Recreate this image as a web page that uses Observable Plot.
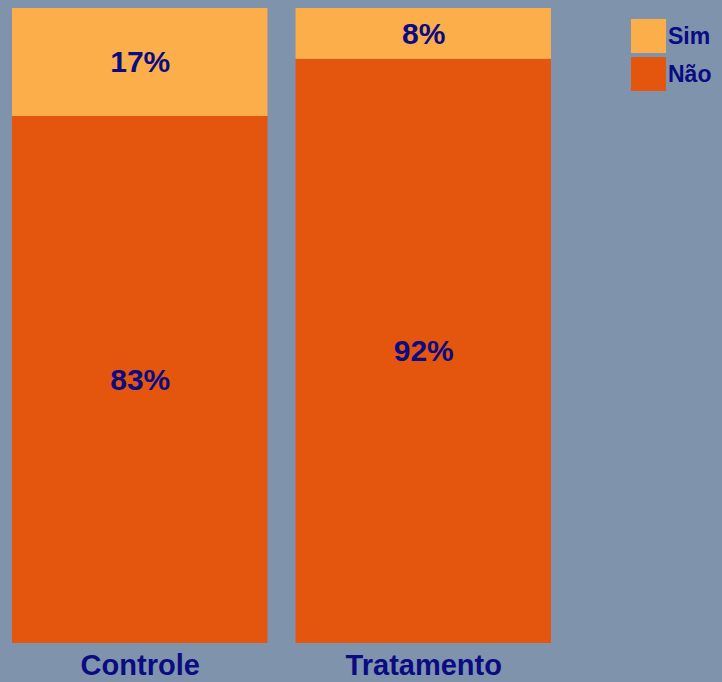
<!DOCTYPE html>
<html>
<head>
<meta charset="utf-8">
<script src="https://cdn.jsdelivr.net/npm/d3@7"></script>
<script src="https://cdn.jsdelivr.net/npm/@observablehq/plot@0.6"></script>
<style>
  html, body { margin: 0; padding: 0; background: #7f93ad; }
  #wrap { position: relative; width: 722px; height: 682px; overflow: hidden; font-family: "Liberation Sans", Arial, sans-serif; }
  #legend { position: absolute; left: 631px; top: 19px; }
  .row { display: flex; align-items: center; height: 34px; margin-bottom: 4px; }
  .sw { width: 35px; height: 34px; }
  .lab { margin-left: 2px; font-size: 23px; font-weight: bold; color: #0b0b82; }
</style>
</head>
<body>
<div id="wrap"></div>
<script>
const groups = ["Controle", "Tratamento"];
const answers = ["Não", "Sim"];
const naoValues = [83, 92];
const simValues = [17, 8];
const colors = ["#e4560e", "#fcae4a"];

const data = [];
groups.forEach((g, i) => {
  data.push({group: g, resp: "Não", value: naoValues[i]});
  data.push({group: g, resp: "Sim", value: simValues[i]});
});

const navy = "#0b0b82";

const chart = Plot.plot({
  width: 722,
  height: 682,
  marginLeft: 12,
  marginRight: 171,
  marginTop: 8,
  marginBottom: 39,
  style: {background: "#7f93ad", fontFamily: "'Liberation Sans', Arial, sans-serif", color: navy},
  x: {domain: groups, paddingInner: 0.099, paddingOuter: 0, round: false, label: null},
  y: {domain: [0, 100], axis: null},
  color: {domain: answers, range: colors},
  marks: [
    Plot.barY(data, {x: "group", y: "value", fill: "resp", z: "resp", order: answers}),
    Plot.text(data, Plot.stackY({x: "group", y: "value", z: "resp", order: answers,
      text: d => d.value + "%", fill: navy, fontSize: 30, fontWeight: "bold"})),
    Plot.axisX({tickSize: 0, tickPadding: 11, fontSize: 29, fontWeight: "bold", label: null})
  ]
});

document.getElementById("wrap").appendChild(chart);

const legend = document.createElement("div");
legend.id = "legend";
["Sim", "Não"].forEach(name => {
  const row = document.createElement("div");
  row.className = "row";
  const sw = document.createElement("div");
  sw.className = "sw";
  sw.style.background = colors[answers.indexOf(name)];
  const lab = document.createElement("span");
  lab.className = "lab";
  lab.textContent = name;
  row.appendChild(sw);
  row.appendChild(lab);
  legend.appendChild(row);
});
document.getElementById("wrap").appendChild(legend);
</script>
</body>
</html>
